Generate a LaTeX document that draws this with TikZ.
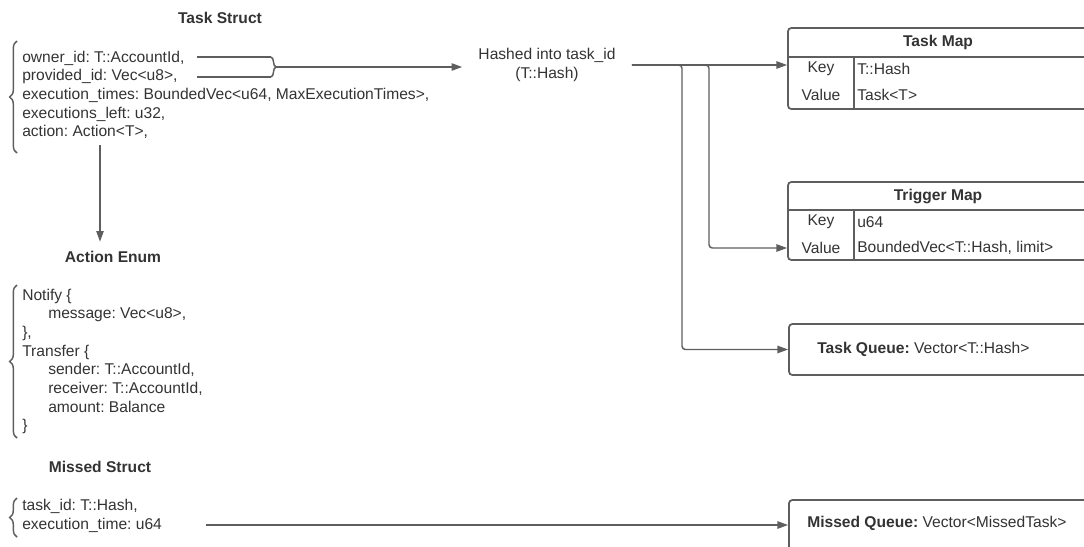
\documentclass[tikz,border=0pt]{standalone}
\usepackage{fontspec}
\setmainfont{Liberation Sans}
\usepackage{tikz}
\usetikzlibrary{calc,arrows.meta,decorations.pathreplacing,fit}
\definecolor{ink}{RGB}{51,51,51}
\definecolor{lineclr}{RGB}{94,94,94}
\frenchspacing

\begin{document}
\begin{tikzpicture}[x=0.75pt, y=-0.75pt,
  every node/.style={font=\fontsize{11.7pt}{14pt}\selectfont, text=ink, inner sep=0pt},
  title/.style={font=\fontsize{11.7pt}{14pt}\selectfont\bfseries, inner ysep=7pt},
  fields/.style={align=left, anchor=west},
  wire/.style={draw=lineclr, line width=1.1pt},
  arr/.style={wire, -{Triangle[length=8pt,width=5.5pt]}},
  curly/.style={wire, decorate, decoration={brace, amplitude=#1}},
  tbl/.style={draw=lineclr, line width=1.3pt, rounded corners=2.5pt, inner sep=0pt}]
\useasboundingbox (0,0) rectangle (1084,546);
\clip (0,0) rectangle (1084,546);

\node[title] (tstitle) at (220,18) {Task Struct};
\node[fields] (tsfields) at (22,95) {owner\_id: T::AccountId,\\provided\_id: Vec<u8>,\\execution\_times: BoundedVec<u64, MaxExecutionTimes>,\\executions\_left: u32,\\action: Action<T>,};
\draw[curly=5.5pt] (17,153) -- (17,41);
\coordinate (ownerend) at (197,57);
\coordinate (provend) at (197,77);
\draw[wire] (ownerend) -- +(74,0);
\draw[wire] (provend) -- +(74,0);
\draw[curly=3.75pt] ($(ownerend)+(74,0)$) -- ($(provend)+(74,0)$);
\coordinate (bracetip) at (276,67);

\node[align=center, inner xsep=12pt] (hashed) at (547,65) {Hashed into task\_id\\(T::Hash)};
\draw[arr] (bracetip) -- (bracetip -| hashed.west);

\node[tbl, fit={(788,28) (1088,109)}] (taskmap) {};
\draw[wire, line width=1.3pt] (788,57) -- (1088,57) (854,57) -- (854,109);
\node[title] (tmtitle) at (938,42.5) {Task Map};
\node (tmkey) at (821,69) {Key};
\node (tmval) at (821,95) {Value};
\node[anchor=west] (tmkeyt) at (857,69) {T::Hash};
\node[anchor=west] (tmvalt) at (857,95) {Task<T>};

\node[tbl, fit={(788,182) (1088,260)}] (trigmap) {};
\draw[wire, line width=1.3pt] (788,210) -- (1088,210) (854,210) -- (854,260);
\node[title] (trtitle) at (938,196) {Trigger Map};
\node (trkey) at (821,222) {Key};
\node (trval) at (821,248) {Value};
\node[anchor=west] (trkeyt) at (857,222) {u64};
\node[anchor=west] (trvalt) at (857,248) {BoundedVec<T::Hash, limit>};

\node[tbl, fit={(789,324) (1088,375)}] (tqueue) {};
\node[anchor=west] (tqtext) at (817,349) {\textbf{Task Queue:} Vector<T::Hash>};
\node[tbl, fit={(789,500) (1088,570)}] (mqueue) {};
\node[anchor=west] (mqtext) at (807,523) {\textbf{Missed Queue:} Vector<MissedTask>};

\coordinate (fork1) at (682,65);
\coordinate (fork2) at (709,65);
\draw[arr] (hashed.east) -- (taskmap.west |- hashed.east);
\draw[arr, rounded corners=2.5pt] (hashed.east) -- (fork1) |- (tqueue.west);
\draw[arr, rounded corners=2.5pt] (hashed.east) -- (fork2) |- (trigmap.west |- trval);

\coordinate (actfrom) at (100,145);
\node[title] (aetitle) at (113,257) {Action Enum};
\draw[arr] (actfrom) -- (actfrom |- aetitle.north);
\node[fields] (aefields) at (22,361.5) {Notify \{\\\hspace*{19.5pt}message: Vec<u8>,\\\},\\Transfer \{\\\hspace*{19.5pt}sender: T::AccountId,\\\hspace*{19.5pt}receiver: T::AccountId,\\\hspace*{19.5pt}amount: Balance\\\}};
\draw[curly=5.5pt] (17,438) -- (17,285);

\node[title] (mstitle) at (100,467) {Missed Struct};
\node[fields] (msfields) at (22,516) {task\_id: T::Hash,\\execution\_time: u64};
\draw[curly=5.5pt] (17,537) -- (17,498);
\coordinate (missfrom) at (206,525);
\draw[arr] (missfrom) -- (mqueue.west |- missfrom);
\end{tikzpicture}
\end{document}
